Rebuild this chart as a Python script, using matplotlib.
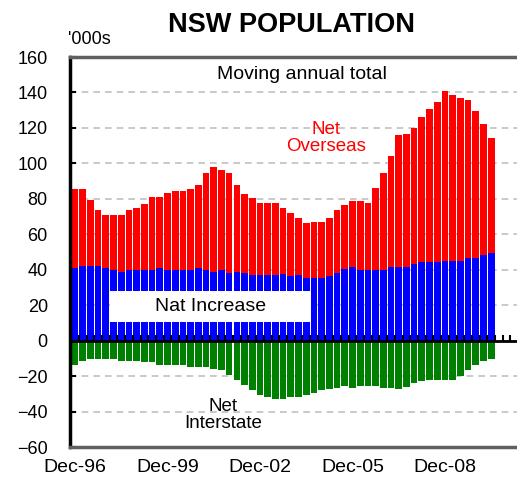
import matplotlib
matplotlib.use("Agg")
import matplotlib.pyplot as plt
from matplotlib.patches import Rectangle
import numpy as np

plt.rcParams["font.family"] = ["Liberation Sans", "DejaVu Sans"]

# quarterly, moving annual totals in '000s, Dec-96 .. Jun-10
months = ["Dec", "Mar", "Jun", "Sep"]
quarter_labels = [f"{months[i % 4]}-{(96 + (i + 3) // 4) % 100:02d}" for i in range(55)]
tick_labels = ["Dec-96", "Dec-99", "Dec-02", "Dec-05", "Dec-08"]

nat_increase = [
    41.1, 42.2, 42.2, 42.2, 41.1, 40.0, 38.9, 40.0, 40.0, 40.0, 40.0,
    41.1, 40.0, 40.0, 40.0, 40.0, 41.1, 40.0, 38.9, 40.0, 38.1, 38.9,
    38.1, 36.8, 36.8, 36.8, 36.8, 37.5, 36.4, 37.3, 35.4, 35.4, 35.4,
    36.4, 38.2, 40.5, 41.6, 39.6, 39.6, 39.6, 39.6, 41.6, 41.7, 41.7,
    43.2, 44.1, 44.1, 44.1, 45.1, 45.1, 45.1, 46.4, 46.4, 48.2, 49.3,
]
net_overseas = [
    44.3, 43.2, 37.1, 31.6, 29.6, 30.7, 31.8, 33.8, 35.0, 37.0, 41.1,
    40.0, 43.2, 44.5, 44.5, 45.4, 46.8, 54.8, 59.2, 56.1, 56.7, 49.0,
    44.5, 43.4, 41.1, 41.1, 41.1, 37.2, 35.8, 32.1, 30.8, 31.8, 31.8,
    33.0, 35.5, 36.0, 37.3, 39.3, 38.2, 46.6, 55.2, 62.5, 74.1, 75.1,
    76.7, 82.3, 86.3, 90.7, 95.9, 93.6, 91.8, 89.4, 83.0, 73.8, 65.2,
]
net_interstate = [
    -13.6, -11.4, -10.5, -10.5, -10.5, -10.5, -11.4, -11.4, -11.4, -12.3, -12.3,
    -13.6, -13.6, -13.6, -13.6, -14.6, -14.6, -14.6, -15.9, -16.8, -19.3, -22.0,
    -24.9, -28.0, -30.5, -31.8, -32.7, -32.7, -31.7, -31.7, -30.8, -29.5, -28.0,
    -27.4, -26.5, -25.6, -26.5, -25.6, -25.6, -25.6, -26.5, -26.5, -27.2, -26.3,
    -23.8, -22.9, -22.0, -22.0, -22.0, -22.0, -19.7, -16.8, -13.6, -11.4, -10.2,
]

fig = plt.figure(figsize=(5.17, 4.87), dpi=100)
ax = fig.add_axes([70 / 517, 40 / 487, 447 / 517, 390 / 487])

x = np.arange(len(quarter_labels))
ax.bar(x, nat_increase, width=0.87, color="#0000ff", zorder=2)
ax.bar(x, net_overseas, bottom=nat_increase, width=0.87, color="#ff0000", zorder=2)
ax.bar(x, net_interstate, width=0.87, color="#008000", zorder=2)

ax.set_xlim(-0.65, 57.35)
ax.set_ylim(-60, 160)
ax.set_yticks(np.arange(-60, 161, 20))
ax.set_xticks([quarter_labels.index(t) for t in tick_labels], tick_labels)
ax.tick_params(axis="x", length=0, pad=9, labelsize=14)
ax.tick_params(axis="y", direction="in", length=4, width=1.5, pad=16, labelsize=13)

ax.yaxis.grid(True, linestyle=(0, (4, 3)), color="#c0c0c0", lw=1.2)
ax.set_axisbelow(True)

ax.spines["left"].set_color("black")
ax.spines["left"].set_linewidth(2.5)
ax.spines["left"].set_zorder(6)
for side in ("top", "bottom"):
    ax.spines[side].set_color("#606060")
    ax.spines[side].set_linewidth(2.5)
    ax.spines[side].set_zorder(6)
ax.spines["right"].set_visible(False)

# zero line with category tick marks
ax.axhline(0, color="black", lw=2, zorder=4)
secax = ax.secondary_xaxis(60 / 220)
secax.set_xticks(np.arange(-0.5, 57.5, 1))
secax.tick_params(direction="in", length=4, width=1.5, labelbottom=False, labeltop=False)
for s in secax.spines.values():
    s.set_visible(False)
secax.set_zorder(5)

# label box over the natural increase bars
ax.add_patch(Rectangle((4.54, 10.5), 26.1, 17.5, facecolor="white", edgecolor="none", zorder=5))
ax.text(17.6, 19.3, "Nat Increase", ha="center", va="center", fontsize=14, zorder=6)

ax.text(29.5, 150, "Moving annual total", ha="center", va="center", fontsize=14)
ax.text(32.6, 114.4, "Net\nOverseas", ha="center", va="center", fontsize=13.5,
        color="#ff0000", linespacing=1.0)
ax.text(19.2, -42, "Net\nInterstate", ha="center", va="center", fontsize=13.5,
        linespacing=1.0)

fig.text(292 / 517, 1 - 25 / 487, "NSW POPULATION", ha="center", va="center",
         fontsize=19.5, fontweight="bold")
fig.text(68 / 517, 1 - 40 / 487, "'000s", ha="left", va="center", fontsize=13)

fig.savefig("out.png", dpi=100)
